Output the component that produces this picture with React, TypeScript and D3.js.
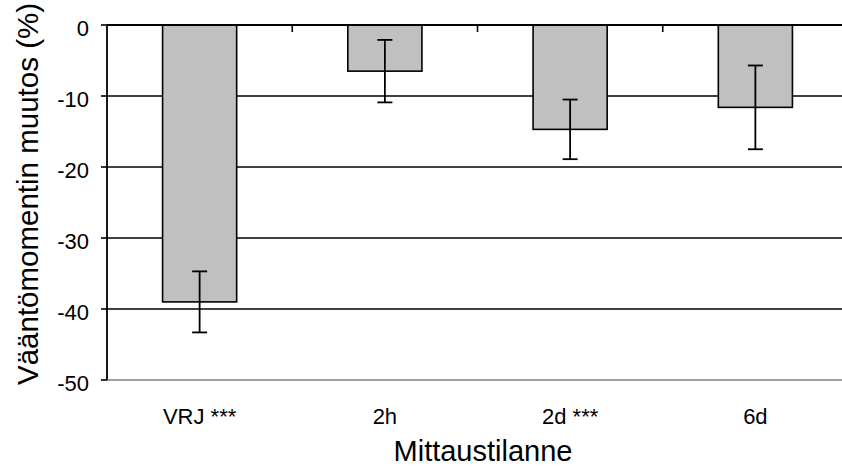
import React from "react";
import * as d3 from "d3";

const categories = ["VRJ ***", "2h", "2d ***", "6d"];
const meanChange = [-39.0, -6.5, -14.7, -11.6];
const errorSize = [4.3, 4.4, 4.2, 5.9];
const yTicks = [0, -10, -20, -30, -40, -50];

const W = 842;
const H = 468;
const left = 107;
const right = 848;
const top = 25;
const bottom = 380;
const FONT = "'Liberation Sans', Arial, sans-serif";

export default function App() {
  const x = d3.scaleBand<string>().domain(categories).range([left, right]).padding(0);
  const y = d3.scaleLinear().domain([0, -50]).range([top, bottom]);
  const bw = x.bandwidth() * 0.4;
  const boundaries = categories.slice(1).map((c) => x(c) as number);

  return (
    <svg width={W} height={H} style={{ position: "absolute", left: 0, top: 0 }}>
      <rect width={W} height={H} fill="#fff" />
      {/* gridlines */}
      {yTicks.filter((t) => t !== 0).map((t) => (
        <line key={t} x1={left} x2={W} y1={y(t)} y2={y(t)}
          stroke={t === -50 ? "#808080" : "#000"} strokeWidth={1.6} />
      ))}
      {/* bars */}
      {categories.map((c, i) => {
        const cx = (x(c) as number) + x.bandwidth() / 2;
        return (
          <rect key={c} x={cx - bw / 2} y={y(0)} width={bw} height={y(meanChange[i]) - y(0)}
            fill="#c0c0c0" stroke="#000" strokeWidth={1.6} />
        );
      })}
      {/* error bars */}
      {categories.map((c, i) => {
        const cx = (x(c) as number) + x.bandwidth() / 2;
        const y1 = y(meanChange[i] + errorSize[i]);
        const y2 = y(meanChange[i] - errorSize[i]);
        return (
          <g key={c} stroke="#000" strokeWidth={1.8}>
            <line x1={cx} x2={cx} y1={y1} y2={y2} />
            <line x1={cx - 7.5} x2={cx + 7.5} y1={y1} y2={y1} />
            <line x1={cx - 7.5} x2={cx + 7.5} y1={y2} y2={y2} />
          </g>
        );
      })}
      {/* category axis along zero */}
      <line x1={left} x2={W} y1={y(0)} y2={y(0)} stroke="#000" strokeWidth={1.8} />
      {boundaries.map((b) => (
        <line key={b} x1={b} x2={b} y1={y(0)} y2={y(0) + 7} stroke="#000" strokeWidth={1.6} />
      ))}
      {/* value axis */}
      <line x1={left} x2={left} y1={y(0)} y2={y(-50)} stroke="#000" strokeWidth={1.8} />
      {yTicks.map((t) => (
        <g key={t}>
          <line x1={left - 6} x2={left} y1={y(t)} y2={y(t)} stroke="#000" strokeWidth={1.6} />
          <text x={left - 18} y={y(t) + 11} textAnchor="end" fontFamily={FONT} fontSize={22} fill="#000">
            {t}
          </text>
        </g>
      ))}
      {categories.map((c) => (
        <text key={c} x={(x(c) as number) + x.bandwidth() / 2} y={424} textAnchor="middle"
          fontFamily={FONT} fontSize={22} fill="#000">
          {c}
        </text>
      ))}
      <text x={483} y={461} textAnchor="middle" fontFamily={FONT} fontSize={29} fill="#000">
        Mittaustilanne
      </text>
      <text transform="translate(38,194) rotate(-90)" textAnchor="middle" fontFamily={FONT} fontSize={29.5} fill="#000">
        Vääntömomentin muutos (%)
      </text>
    </svg>
  );
}
